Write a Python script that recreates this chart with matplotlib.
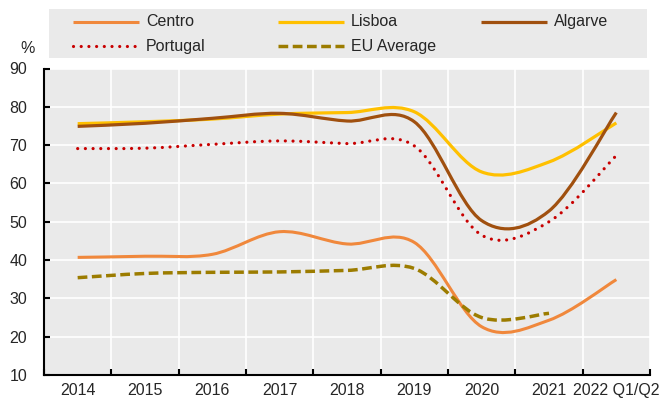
"""Occupancy rates by region, 2014 to 2022 Q1/Q2, smoothed lines."""

import matplotlib

matplotlib.use("Agg")

import matplotlib.pyplot as plt
from matplotlib.lines import Line2D
from matplotlib.patches import PathPatch, Rectangle
from matplotlib.path import Path

years = ["2014", "2015", "2016", "2017", "2018", "2019", "2020", "2021", "2022 Q1/Q2"]

centro = [40.7, 41.0, 41.5, 47.4, 44.2, 44.6, 22.6, 24.3, 34.9]
lisboa = [75.6, 76.1, 76.8, 78.1, 78.5, 78.7, 63.0, 65.6, 75.8]
algarve = [74.9, 75.7, 77.0, 78.3, 76.3, 76.1, 50.3, 52.8, 78.5]
portugal = [69.1, 69.2, 70.2, 71.1, 70.4, 69.8, 46.5, 50.0, 67.3]
eu_average = [35.4, 36.5, 36.8, 36.9, 37.3, 37.8, 25.0, 26.1]

W, H = 664, 400
TEXT = "#262626"
BG = "#eaeaea"

plt.rcParams["font.family"] = ["Liberation Sans", "DejaVu Sans"]

series = [
    # label, values, colour, linestyle, width, capstyle
    ("Centro", centro, "#f0883c", "-", 2.2, "butt"),
    ("Lisboa", lisboa, "#ffc000", "-", 2.3, "butt"),
    ("Algarve", algarve, "#a0500f", "-", 2.3, "butt"),
    ("Portugal", portugal, "#c80000", (0, (0.01, 2.4)), 2.3, "round"),
    ("EU Average", eu_average, "#9c7c00", (0, (2.8, 1.3)), 2.5, "butt"),
]


def smooth_path(values):
    # Catmull-Rom through the points, written as cubic Bezier segments
    pts = [(float(i), float(v)) for i, v in enumerate(values)]
    verts = [pts[0]]
    codes = [Path.MOVETO]
    for i in range(len(pts) - 1):
        p0 = pts[i - 1] if i > 0 else pts[i]
        p1, p2 = pts[i], pts[i + 1]
        p3 = pts[i + 2] if i + 2 < len(pts) else pts[i + 1]
        c1 = (p1[0] + (p2[0] - p0[0]) / 6, p1[1] + (p2[1] - p0[1]) / 6)
        c2 = (p2[0] - (p3[0] - p1[0]) / 6, p2[1] - (p3[1] - p1[1]) / 6)
        verts += [c1, c2, p2]
        codes += [Path.CURVE4] * 3
    return Path(verts, codes)


def fx(px):
    return px / W


def fy(py):
    return 1 - py / H


fig = plt.figure(figsize=(W / 100, H / 100), dpi=100)
ax = fig.add_axes([fx(44), fy(375), fx(650 - 44), (375 - 68.5) / H])
ax.set_facecolor(BG)

for label, values, color, ls, lw, cap in series:
    patch = PathPatch(
        smooth_path(values),
        facecolor="none",
        edgecolor=color,
        linewidth=lw,
        linestyle=ls,
        capstyle=cap,
        joinstyle="round",
        zorder=3,
    )
    ax.add_patch(patch)

ax.set_xlim(-0.5, len(years) - 0.5)
ax.set_ylim(10, 90)
ax.set_yticks(range(10, 91, 10))
ax.set_xticks([i - 0.5 for i in range(len(years) + 1)])
ax.set_xticklabels([])
ax.set_xticks(range(len(years)), minor=True)
ax.set_xticklabels(years, minor=True)

ax.grid(True, which="major", color="white", linewidth=1.2, zorder=1)
ax.set_axisbelow(True)

for side in ("top", "right"):
    ax.spines[side].set_visible(False)
for side in ("left", "bottom"):
    ax.spines[side].set_linewidth(1.5)
    ax.spines[side].set_color("black")

ax.tick_params(axis="y", direction="in", length=4, width=1.5, pad=12,
               labelsize=11.5, labelcolor=TEXT)
ax.tick_params(axis="x", which="major", direction="in", length=4, width=1.5)
ax.tick_params(axis="x", which="minor", length=0, pad=5.5,
               labelsize=11.5, labelcolor=TEXT)

# legend drawn by hand so the three columns sit at fixed spots
fig.add_artist(Rectangle((fx(49.3), fy(57.7)), fx(647 - 49.3), (57.7 - 9.3) / H,
                         transform=fig.transFigure, facecolor=BG,
                         edgecolor="none", zorder=0))
col_x = [73, 278, 481]
row_y = [21.5, 46]
for k, (label, values, color, ls, lw, cap) in enumerate(series):
    x0 = col_x[k % 3]
    y0 = row_y[k // 3]
    handle = Line2D([fx(x0), fx(x0 + 66)], [fy(y0), fy(y0)],
                    transform=fig.transFigure, color=color, linewidth=lw,
                    linestyle=ls, dash_capstyle=cap, solid_capstyle="butt")
    fig.add_artist(handle)
    fig.text(fx(x0 + 73), fy(y0), label, fontsize=11.5, color=TEXT,
             va="center", ha="left")

fig.text(fx(28), fy(48.5), "%", fontsize=11.5, color=TEXT, ha="center", va="center")

fig.savefig("out.png", dpi=100)
plt.close(fig)
